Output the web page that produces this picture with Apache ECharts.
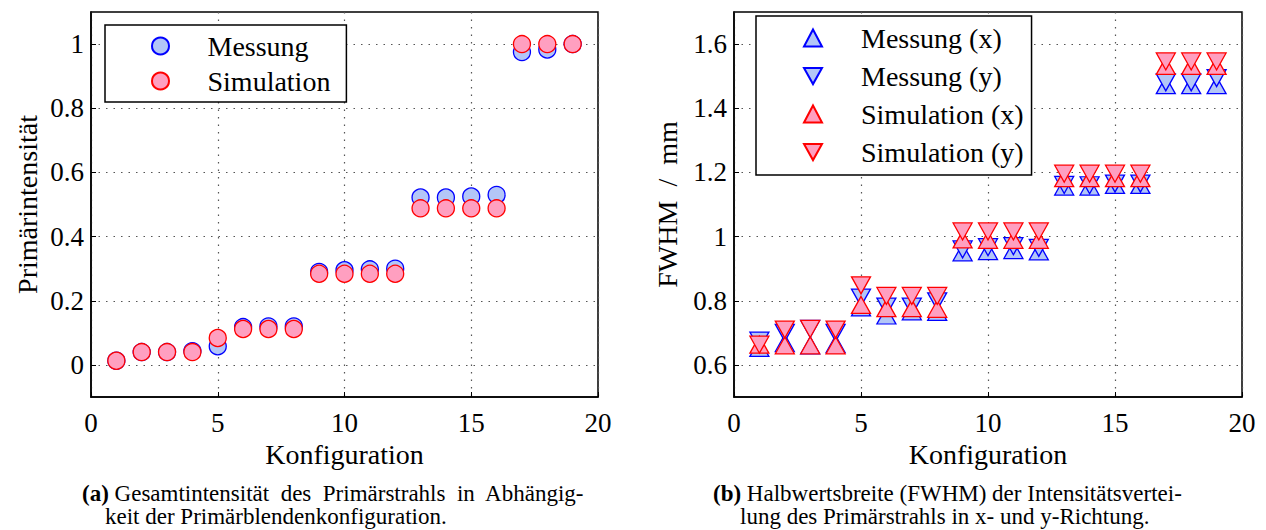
<!DOCTYPE html>
<html>
<head>
<meta charset="utf-8">
<script src="https://cdn.jsdelivr.net/npm/echarts@6.0.0/dist/echarts.min.js"></script>
<style>
  html, body { margin: 0; padding: 0; background: #fff; }
  #main { width: 1266px; height: 530px; }
</style>
</head>
<body>
<div id="main"></div>
<script>
// Konfiguration 1..19
const konfig = [1, 2, 3, 4, 5, 6, 7, 8, 9, 10, 11, 12, 13, 14, 15, 16, 17, 18, 19];

// (a) Primärintensität
const intMessung = [0.013, 0.04, 0.04, 0.043, 0.058, 0.118, 0.12, 0.12, 0.29, 0.295, 0.298, 0.3,
    0.522, 0.522, 0.525, 0.53, 0.975, 0.983, 1.0];
const intSimulation = [0.013, 0.04, 0.04, 0.04, 0.084, 0.112, 0.112, 0.112, 0.284, 0.284, 0.284, 0.284,
    0.488, 0.488, 0.488, 0.488, 1.0, 1.0, 1.0];

// (b) FWHM / mm
const fwhmMessX = [0.653, 0.668, 0.661, 0.665, 0.779, 0.754, 0.767, 0.765, 0.951, 0.955, 0.958, 0.954,
    1.156, 1.156, 1.161, 1.161, 1.472, 1.472, 1.472];
const fwhmMessY = [0.676, 0.70, 0.712, 0.70, 0.81, 0.782, 0.782, 0.798, 0.96, 0.967, 0.97, 0.965,
    1.161, 1.16, 1.165, 1.165, 1.481, 1.481, 1.494];
const fwhmSimX = [0.663, 0.661, 0.661, 0.661, 0.787, 0.777, 0.777, 0.775, 0.991, 0.99, 0.99, 0.99,
    1.182, 1.182, 1.182, 1.182, 1.532, 1.532, 1.532];
const fwhmSimY = [0.663, 0.71, 0.712, 0.71, 0.848, 0.815, 0.815, 0.815, 1.016, 1.016, 1.016, 1.016,
    1.196, 1.196, 1.196, 1.196, 1.546, 1.546, 1.546];

const yTicksA = [0, 0.2, 0.4, 0.6, 0.8, 1];
const yTicksB = [0.6, 0.8, 1, 1.2, 1.4, 1.6];

const FONT = '"Liberation Serif", serif';
const blueFill = '#b3c6f7', blueLine = '#0000ff';
const redFill = '#ff9fc0', redLine = '#ff0000';
const triDown = 'path://M0,0L20,0L10,18Z';

function pairs(ys) {
    return konfig.map((x, i) => [x, ys[i]]);
}

var chartDom = document.getElementById('main');
var myChart = echarts.init(chartDom, null, { renderer: 'svg' });
var option;

function xAxisFor(idx) {
    return {
        type: 'value', gridIndex: idx, min: 0, max: 20, interval: 5,
        name: 'Konfiguration', nameLocation: 'middle', nameGap: 37,
        nameTextStyle: { fontFamily: FONT, fontSize: 28, color: '#000' },
        axisLine: { show: true, onZero: false, lineStyle: { color: '#000', width: 1.5 } },
        axisTick: { show: true, inside: true, length: 5, lineStyle: { color: '#000' } },
        axisLabel: { fontFamily: FONT, fontSize: 27, color: '#000', margin: 12 },
        splitLine: { show: true, lineStyle: { color: '#555', type: [1.5, 6], width: 1.2 } }
    };
}

function yAxisFor(idx, min, max, ticks, name, gap) {
    return {
        type: 'value', gridIndex: idx, min: min, max: max,
        name: name, nameLocation: 'middle', nameGap: gap,
        nameTextStyle: { fontFamily: FONT, fontSize: 28, color: '#000' },
        axisLine: { show: true, onZero: false, lineStyle: { color: '#000', width: 1.5 } },
        axisTick: { show: true, inside: true, length: 5, customValues: ticks, lineStyle: { color: '#000' } },
        axisLabel: { fontFamily: FONT, fontSize: 27, color: '#000', margin: 7, customValues: ticks },
        splitLine: { show: true, lineStyle: { color: '#555', type: [1.5, 6], width: 1.2 } }
    };
}

function scatter(name, idx, ys, symbol, size, fill, line) {
    return {
        name: name, type: 'scatter', xAxisIndex: idx, yAxisIndex: idx,
        data: pairs(ys), symbol: symbol, symbolSize: size,
        itemStyle: { color: fill, borderColor: line, borderWidth: 1.3, opacity: 1 },
        emphasis: { disabled: true }
    };
}

function caption(x, y, text) {
    return {
        type: 'text', left: x, top: y,
        style: {
            text: text, fill: '#000',
            font: '23px "Liberation Serif", serif',
            rich: {
                b: { fontFamily: FONT, fontSize: 23, lineHeight: 24, fontWeight: 'bold', fill: '#000' },
                n: { fontFamily: FONT, fontSize: 23, lineHeight: 24, fill: '#000' }
            }
        }
    };
}

option = {
    backgroundColor: '#fff',
    animation: false,
    textStyle: { fontFamily: FONT },
    grid: [
        { left: 91, right: 668, top: 12, bottom: 133, show: true, borderColor: '#000', borderWidth: 1.5, outerBoundsMode: 'none' },
        { left: 734, right: 24, top: 12, bottom: 133, show: true, borderColor: '#000', borderWidth: 1.5, outerBoundsMode: 'none' }
    ],
    xAxis: [xAxisFor(0), xAxisFor(1)],
    yAxis: [
        yAxisFor(0, -0.1, 1.1, yTicksA, 'Primärintensität', 50),
        yAxisFor(1, 0.5, 1.7, yTicksB, 'FWHM  /  mm', 53)
    ],
    legend: [
        {
            data: ['Messung', 'Simulation'],
            orient: 'vertical', left: 105, top: 25,
            padding: [7, 16, 7, 46], itemGap: 7,
            itemWidth: 18, itemHeight: 17,
            borderColor: '#000', borderWidth: 1.5, backgroundColor: '#fff',
            selectedMode: false,
            textStyle: { fontFamily: FONT, fontSize: 28, color: '#000', lineHeight: 28, padding: [0, 0, 0, 33] }
        },
        {
            data: ['Messung (x)', 'Messung (y)', 'Simulation (x)', 'Simulation (y)'],
            orient: 'vertical', left: 756, top: 16,
            padding: [8, 8, 9, 47], itemGap: 10,
            itemWidth: 18, itemHeight: 17,
            borderColor: '#000', borderWidth: 1.5, backgroundColor: '#fff',
            selectedMode: false,
            textStyle: { fontFamily: FONT, fontSize: 28, color: '#000', lineHeight: 28, padding: [0, 0, 0, 34] }
        }
    ],
    series: [
        scatter('Messung', 0, intMessung, 'circle', 17, blueFill, blueLine),
        scatter('Simulation', 0, intSimulation, 'circle', 17, redFill, redLine),
        scatter('Messung (x)', 1, fwhmMessX, 'triangle', [19, 17], blueFill, blueLine),
        scatter('Messung (y)', 1, fwhmMessY, triDown, [19, 17], blueFill, blueLine),
        scatter('Simulation (x)', 1, fwhmSimX, 'triangle', [19, 17], redFill, redLine),
        scatter('Simulation (y)', 1, fwhmSimY, triDown, [19, 17], redFill, redLine)
    ],
    graphic: [
        caption(82, 482, '{b|(a)}{n| Gesamtintensität  des  Primärstrahls  in  Abhängig-}'),
        caption(105, 505, '{n|keit der Primärblendenkonfiguration.}'),
        caption(713, 482, '{b|(b)}{n| Halbwertsbreite (FWHM) der Intensitätsvertei-}'),
        caption(740, 505, '{n|lung des Primärstrahls in x- und y-Richtung.}')
    ]
};

option && myChart.setOption(option);
</script>
</body>
</html>
